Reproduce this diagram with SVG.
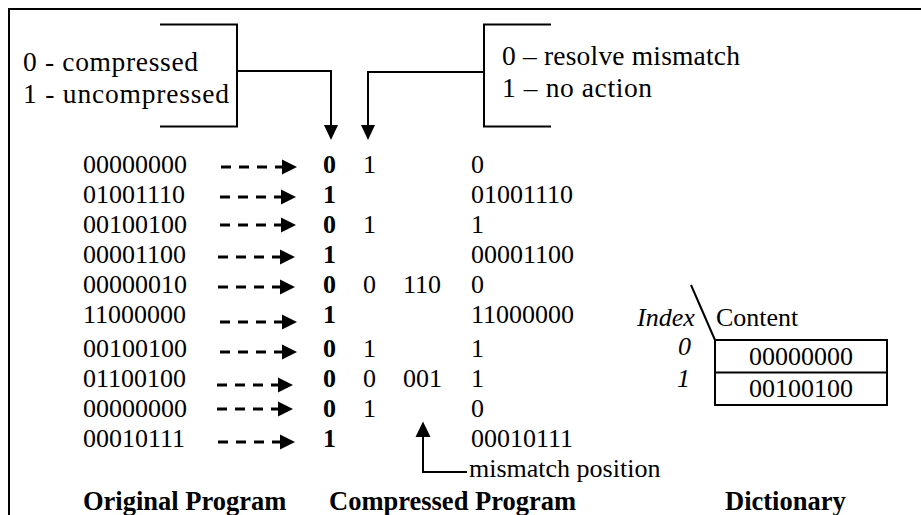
<svg xmlns="http://www.w3.org/2000/svg" width="921" height="515" viewBox="0 0 921 515" font-family="'Liberation Serif', 'DejaVu Serif', serif">
  <style>
    text { font-family: 'Liberation Serif', 'DejaVu Serif', serif; font-size: 26px; fill: #000; }
    .lbl { font-size: 27.5px; }
    .b { font-weight: bold; }
    .hd { font-weight: bold; font-size: 26.5px; }
    .it { font-style: italic; }
    .line { fill: none; stroke: #000; stroke-width: 2; }
    .dash { fill: none; stroke: #000; stroke-width: 3; stroke-dasharray: 10 8; }
    .head { fill: #000; stroke: none; }
  </style>
  <defs>
    <marker id="dashHead" markerUnits="userSpaceOnUse" markerWidth="16" markerHeight="16" viewBox="0 0 16 16" refX="0" refY="8" orient="auto">
      <path d="M0 0.5 L15 8 L0 15.5 Z" fill="#000"/>
    </marker>
  </defs>

  <!-- outer frame (top and left edges) -->
  <path class="line" d="M9 515 V9 H921"/>

  <!-- legend: flag bit -->
  <g id="legend-flag">
    <path class="line" d="M160 24.5 H237 V126.5 H160"/>
    <text class="lbl" x="23" y="71" textLength="175">0 - compressed</text>
    <text class="lbl" x="23" y="103" textLength="206">1 - uncompressed</text>
  </g>

  <!-- legend: mismatch action bit -->
  <g id="legend-action">
    <path class="line" d="M551 24.5 H484 V126.5 H551"/>
    <text class="lbl" x="502" y="65" textLength="238">0 – resolve mismatch</text>
    <text class="lbl" x="502" y="97" textLength="150">1 – no action</text>
  </g>

  <!-- original program -->
  <g id="original">
    <text x="83" y="173">00000000</text>
    <text x="83" y="203">01001110</text>
    <text x="83" y="233">00100100</text>
    <text x="83" y="263">00001100</text>
    <text x="83" y="293">00000010</text>
    <text x="83" y="323">11000000</text>
    <text x="83" y="357">00100100</text>
    <text x="83" y="387">01100100</text>
    <text x="83" y="417">00000000</text>
    <text x="83" y="447">00010111</text>
    <text class="hd" x="83" y="510">Original Program</text>
  </g>

  <!-- compressed program -->
  <g id="compressed">
    <text class="b" x="323" y="173">0</text>
    <text class="b" x="323" y="203">1</text>
    <text class="b" x="323" y="233">0</text>
    <text class="b" x="323" y="263">1</text>
    <text class="b" x="323" y="293">0</text>
    <text class="b" x="323" y="323">1</text>
    <text class="b" x="323" y="357">0</text>
    <text class="b" x="323" y="387">0</text>
    <text class="b" x="323" y="417">0</text>
    <text class="b" x="323" y="447">1</text>
    <text x="363" y="173">1</text>
    <text x="363" y="233">1</text>
    <text x="363" y="293">0</text>
    <text x="363" y="357">1</text>
    <text x="363" y="387">0</text>
    <text x="363" y="417">1</text>
    <text x="403" y="293">110</text>
    <text x="403" y="387">001</text>
    <text x="471" y="173">0</text>
    <text x="471" y="203">01001110</text>
    <text x="471" y="233">1</text>
    <text x="471" y="263">00001100</text>
    <text x="471" y="293">0</text>
    <text x="471" y="323">11000000</text>
    <text x="471" y="357">1</text>
    <text x="471" y="387">1</text>
    <text x="471" y="417">0</text>
    <text x="471" y="447">00010111</text>
    <text x="469" y="477">mismatch position</text>
    <text class="hd" x="329" y="510">Compressed Program</text>
  </g>

  <!-- dictionary -->
  <g id="dictionary">
    <text class="it" x="637" y="326">Index</text>
    <text x="716" y="326">Content</text>
    <path class="line" d="M691 285 L715 340"/>
    <text class="it" x="678" y="355">0</text>
    <text class="it" x="677" y="387">1</text>
    <rect class="line" x="715" y="340" width="172" height="65"/>
    <path class="line" d="M715 372.5 H887"/>
    <text x="801" y="365" text-anchor="middle">00000000</text>
    <text x="801" y="397" text-anchor="middle">00100100</text>
    <text class="hd" x="725" y="510">Dictionary</text>
  </g>

  <!-- connectors -->
  <g id="connectors">
    <path class="line" d="M237 71 H331 V126"/>
    <path class="head" d="M324 125 H338 L331 140 Z"/>
    <path class="line" d="M484 72 H368 V126"/>
    <path class="head" d="M361 125 H375 L368 140 Z"/>

    <path class="dash" marker-end="url(#dashHead)" d="M221 167 H282"/>
    <path class="dash" marker-end="url(#dashHead)" d="M220 197 H281"/>
    <path class="dash" marker-end="url(#dashHead)" d="M220 225 H281"/>
    <path class="dash" marker-end="url(#dashHead)" d="M218 257 H280"/>
    <path class="dash" marker-end="url(#dashHead)" d="M218 287 H280"/>
    <path class="dash" marker-end="url(#dashHead)" d="M220 322 H282"/>
    <path class="dash" marker-end="url(#dashHead)" d="M220 352 H282"/>
    <path class="dash" marker-end="url(#dashHead)" d="M217 385 H278"/>
    <path class="dash" marker-end="url(#dashHead)" d="M217 409 H278"/>
    <path class="dash" marker-end="url(#dashHead)" d="M218 442 H280"/>

    <path class="line" d="M423 436 V472 H467"/>
    <path class="head" d="M415.5 437 H430.5 L423 421.5 Z"/>
  </g>
</svg>
